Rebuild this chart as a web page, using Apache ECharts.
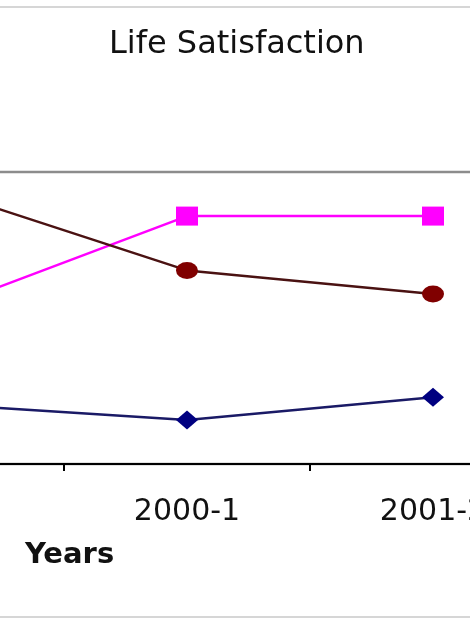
<!DOCTYPE html>
<html>
<head>
<meta charset="utf-8">
<script src="https://cdn.jsdelivr.net/npm/echarts@6/dist/echarts.min.js"></script>
<style>
  html, body { margin: 0; padding: 0; background: #fff; overflow: hidden; }
  /* 图表比窗口宽, 左右两边裁掉一部分 */
  #wrap { position: relative; width: 470px; height: 625px; overflow: hidden; }
  #chart { position: absolute; left: -182px; top: 0; width: 738px; height: 625px; }
</style>
</head>
<body>
<div id="wrap"><div id="chart"></div></div>
<script>
// 横轴年份
const years = ['1999-0', '2000-1', '2001-2']
// 三条线的数值 (0-100)
const pinkValues = [53.1, 84.9, 84.9]
const maroonValues = [93.8, 66.3, 58.2]
const navyValues = [20.5, 15.1, 22.9]

const font = 'DejaVu Sans'
const shift = 182 // 容器左移的距离

let myChart = echarts.init(document.getElementById('chart'))
myChart.setOption({
  animation: false,
  backgroundColor: '#fff',
  title: [
    {
      text: 'Life Satisfaction',
      left: shift + 104,
      top: 22,
      textStyle: { fontFamily: font, fontSize: 32, fontWeight: 'normal', color: '#111', lineHeight: 36 }
    },
    {
      text: 'Years', // x轴标题
      left: shift + 20,
      top: 532,
      textStyle: { fontFamily: font, fontSize: 29, fontWeight: 'bold', color: '#111', lineHeight: 36 }
    }
  ],
  // 外框的上下两条浅灰线
  graphic: [{
    type: 'rect',
    shape: { x: -10, y: 7, width: 760, height: 610 },
    style: { fill: 'none', stroke: '#d6d6d6', lineWidth: 2 },
    silent: true,
    z: -1
  }],
  grid: {
    left: 0,
    right: 0,
    top: 172,
    bottom: 161,
    show: true,
    borderColor: '#8c8c8c',
    borderWidth: 2.5,
    backgroundColor: 'transparent'
  },
  xAxis: {
    type: 'category',
    data: years,
    boundaryGap: true,
    axisLine: { lineStyle: { color: '#000', width: 2 } },
    axisTick: { show: true, length: 7, lineStyle: { color: '#000', width: 2 } },
    axisLabel: { interval: 0, margin: 33, fontFamily: font, fontSize: 30, color: '#111' }
  },
  yAxis: {
    type: 'value',
    min: 0,
    max: 100,
    show: false,
    splitLine: { show: false }
  },
  series: [
    {
      name: 'Series 1',
      type: 'line',
      data: pinkValues,
      symbol: 'rect',
      symbolSize: [22, 19],
      lineStyle: { color: '#ff00ff', width: 2.5 },
      itemStyle: { color: '#ff00ff' }
    },
    {
      name: 'Series 2',
      type: 'line',
      data: maroonValues,
      symbol: 'circle',
      symbolSize: [22, 17],
      lineStyle: { color: '#4a1212', width: 2.5 },
      itemStyle: { color: '#800000' }
    },
    {
      name: 'Series 3',
      type: 'line',
      data: navyValues,
      symbol: 'diamond',
      symbolSize: [22, 19],
      lineStyle: { color: '#1a1a66', width: 2.5 },
      itemStyle: { color: '#000080' }
    }
  ]
})
window.addEventListener('resize', function () {
  myChart.resize()
})
</script>
</body>
</html>
